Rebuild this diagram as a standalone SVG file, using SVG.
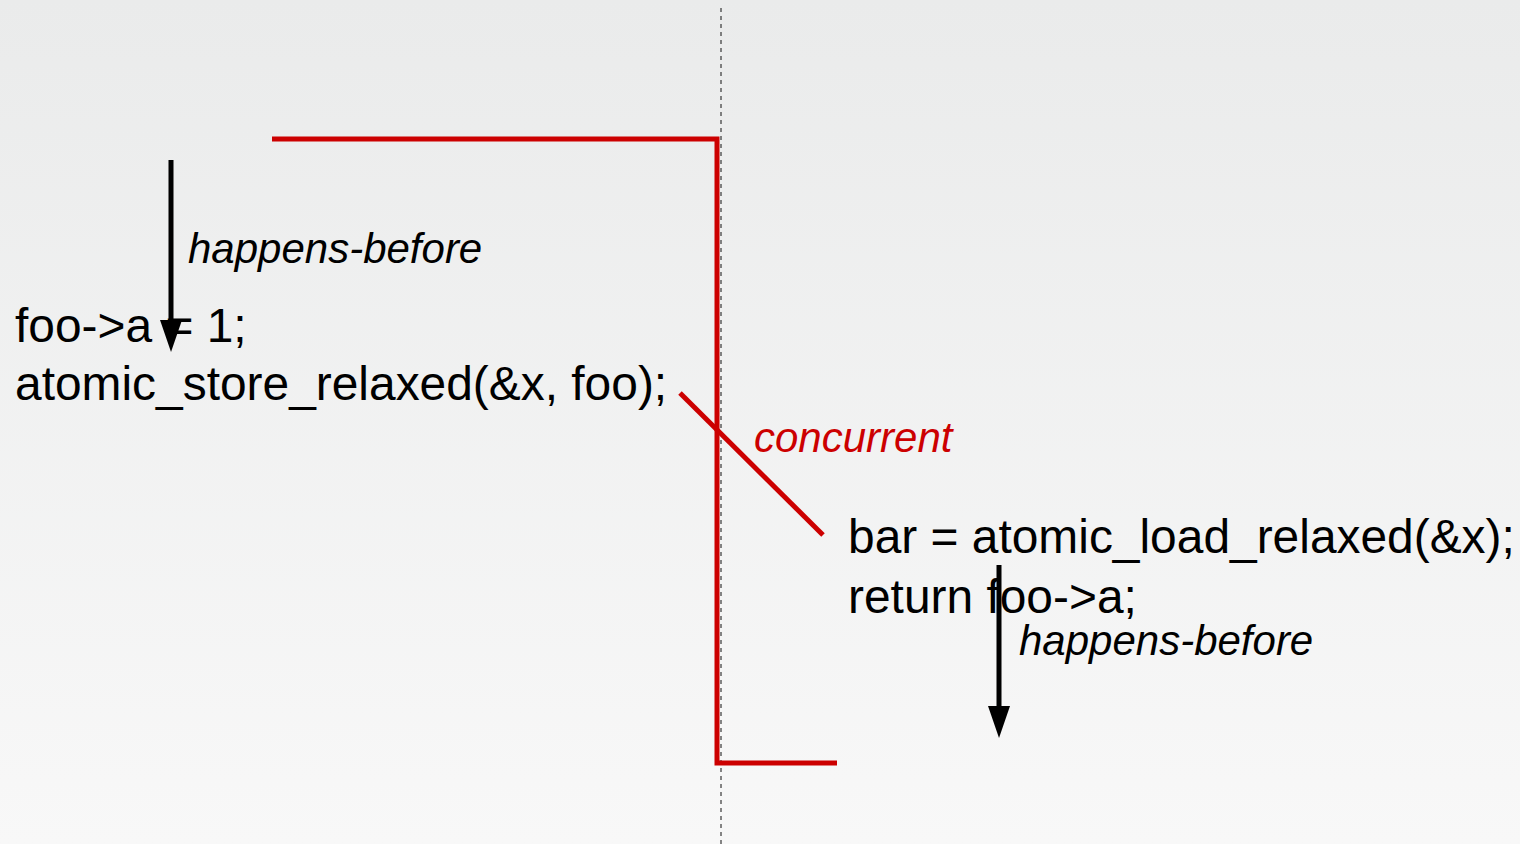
<svg xmlns="http://www.w3.org/2000/svg" width="1520" height="844" viewBox="0 0 1520 844">
<defs>
<linearGradient id="bg" x1="0" y1="0" x2="0" y2="1">
<stop offset="0" stop-color="#eaebeb"/>
<stop offset="1" stop-color="#f8f8f8"/>
</linearGradient>
<marker id="ah" viewBox="0 0 10 10" refX="0" refY="5" markerWidth="32" markerHeight="22" markerUnits="userSpaceOnUse" orient="auto" preserveAspectRatio="none">
<path d="M0,0 L10,5 L0,10 Z" fill="#000"/>
</marker>
<style>
.code{font-family:"Liberation Sans",Arial,sans-serif;font-size:47.9px;fill:#000}
.lbl{font-family:"Liberation Sans",Arial,sans-serif;font-size:42px;font-style:italic;fill:#000}
.red{stroke:#cc0000;stroke-width:5;fill:none}
.arr{stroke:#000;stroke-width:5;fill:none}
</style>
</defs>
<rect width="1520" height="844" fill="url(#bg)"/>
<line x1="721" y1="8" x2="721" y2="844" stroke="#111" stroke-width="1" stroke-dasharray="4,4"/>
<g id="left-code">
<text class="code" x="15" y="342">foo-&gt;a = 1;</text>
<text class="code" x="15" y="400">atomic_store_relaxed(&amp;x, foo);</text>
</g>
<g id="right-code">
<text class="code" x="848" y="553">bar = atomic_load_relaxed(&amp;x);</text>
<text class="code" x="848" y="613">return foo-&gt;a;</text>
</g>
<g id="labels">
<text class="lbl" x="188" y="263">happens-before</text>
<text class="lbl" x="1019" y="655">happens-before</text>
<text class="lbl" x="754" y="452" style="fill:#cc0000">concurrent</text>
</g>
<g id="connectors">
<path class="red" d="M272,139 H717 V763 H837"/>
<line class="red" x1="680" y1="393" x2="823" y2="535"/>
<line class="arr" x1="171" y1="160" x2="171" y2="320" marker-end="url(#ah)"/>
<line class="arr" x1="999" y1="565" x2="999" y2="706" marker-end="url(#ah)"/>
</g>
</svg>
